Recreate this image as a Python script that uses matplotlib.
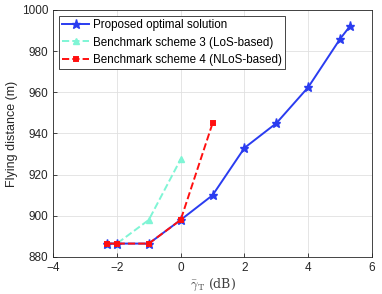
import matplotlib
matplotlib.use('Agg')
import matplotlib.pyplot as plt

# data
x_prop = [-2.3, -2, -1, 0, 1, 2, 3, 4, 5, 5.3]
y_prop = [886.5, 886.5, 886.5, 898, 910, 933, 945, 962.5, 986, 992]
x_los = [-2.3, -2, -1, 0]
y_los = [886.5, 886.5, 898, 927.5]
x_nlos = [-2.3, -2, -1, 0, 1]
y_nlos = [886.5, 886.5, 886.5, 898, 945]

xticks = [-4, -2, 0, 2, 4, 6]
yticks = [880, 900, 920, 940, 960, 980, 1000]

plt.rcParams['font.family'] = ['Liberation Sans', 'DejaVu Sans']
plt.rcParams['mathtext.fontset'] = 'cm'

fig = plt.figure(figsize=(3.82, 2.94), dpi=100)
ax = fig.add_axes([0.139, 0.126, 0.835, 0.840])

ax.plot(x_prop, y_prop, '-*', color='#2a3cf0', lw=1.4, ms=6.5,
        label='Proposed optimal solution', zorder=3)
ax.plot(x_los, y_los, '--^', color='#7ff5d5', lw=1.4, ms=4.5,
        label='Benchmark scheme 3 (LoS-based)', zorder=2)
ax.plot(x_nlos, y_nlos, '--s', color='#ff1010', lw=1.4, ms=3.5, mew=1.4,
        mfc='#ff1010', label='Benchmark scheme 4 (NLoS-based)', zorder=4)

ax.set_xlim(-4, 6)
ax.set_ylim(880, 1000)
ax.set_xticks(xticks)
ax.set_yticks(yticks)
ax.grid(True, color='#e0e0e0', lw=0.6)
ax.set_axisbelow(True)
ax.tick_params(direction='in', length=3, labelsize=8.5, colors='#262626', width=0.6)
for s in ax.spines.values():
    s.set_color('#262626')
    s.set_linewidth(0.6)

ax.set_xlabel(r'$\bar{\gamma}_{\rm T}$ (dB)', fontsize=9, family='DejaVu Serif', color='#404040', labelpad=2)
ax.set_ylabel('Flying distance (m)', fontsize=9, color='#262626', labelpad=3)

leg = ax.legend(loc='upper left', fontsize=8.4, frameon=True, fancybox=False,
                edgecolor='#262626', framealpha=1, borderaxespad=0.5,
                handlelength=2.3, labelspacing=0.45, borderpad=0.3, handletextpad=0.3)
leg.get_frame().set_linewidth(0.6)

fig.savefig('out.png', dpi=100)
